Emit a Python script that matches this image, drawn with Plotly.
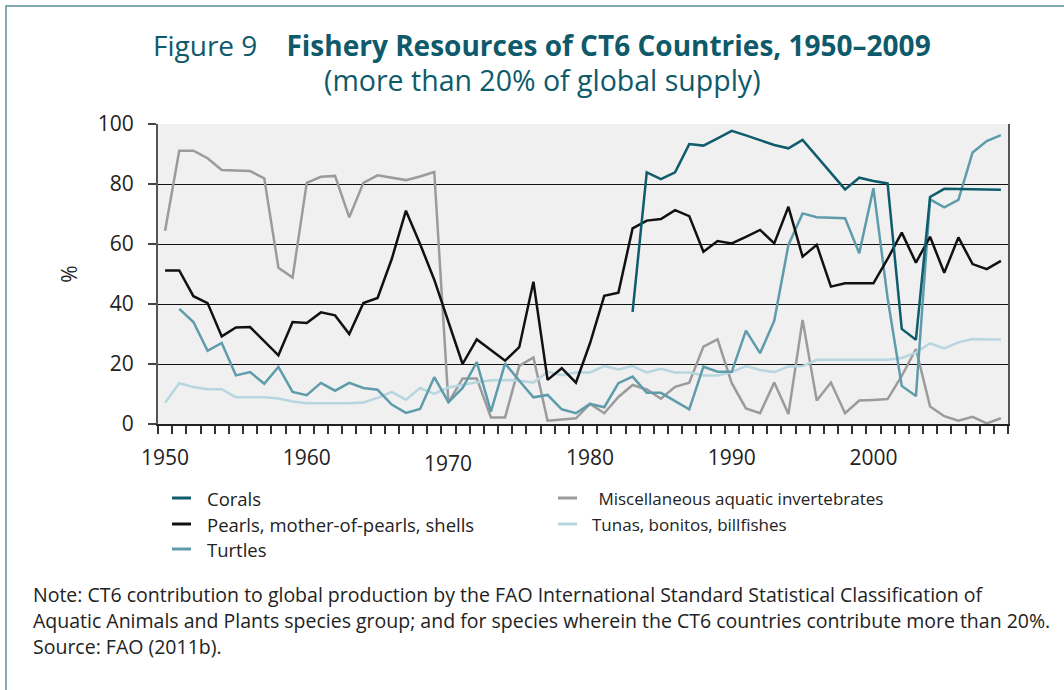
import plotly.graph_objects as go

years = list(range(1950, 2010))

corals_years = list(range(1983, 2010))
corals = [37.4, 83.9, 81.6, 83.9, 93.3, 92.8, 95.2, 97.7, 96.2, 94.6, 93.0, 91.9, 94.7,
          89.2, 83.7, 78.2, 82.1, 81.0, 80.2, 31.7, 28.1, 75.7, 78.4, 78.4, 78.3, 78.2, 78.1]

pearls = [51.2, 51.2, 42.6, 40.3, 29.2, 32.2, 32.3, 27.5, 22.9, 34.0,
          33.7, 37.2, 36.2, 30.0, 40.3, 42.0, 55.0, 71.1, 60.0, 48.1,
          33.7, 20.0, 28.2, 24.7, 21.1, 25.6, 47.4, 14.7, 18.6, 13.8,
          27.0, 42.7, 43.8, 65.2, 67.8, 68.3, 71.3, 69.3, 57.4, 61.0,
          60.2, 62.4, 64.7, 60.2, 72.4, 55.8, 59.7, 45.8, 46.9, 46.9,
          46.9, 55.0, 63.8, 53.8, 62.4, 50.4, 62.2, 53.3, 51.6, 54.4]

turtles_years = list(range(1951, 2010))
turtles = [38.4, 34.0, 24.4, 27.0, 16.2, 17.3, 13.4, 19.0, 10.7,
           9.6, 13.7, 11.1, 13.7, 12.0, 11.4, 6.5, 3.7, 5.0, 15.6,
           7.3, 12.0, 20.6, 4.1, 20.2, 14.4, 8.9, 9.7, 4.9, 3.6,
           6.7, 5.6, 13.6, 15.8, 10.4, 10.4, 7.6, 4.9, 19.1, 17.4,
           17.4, 31.1, 23.6, 34.4, 59.7, 70.2, 68.9, 68.7, 68.6, 56.9,
           78.6, 42.0, 12.7, 9.3, 74.9, 72.2, 74.7, 90.5, 94.3, 96.3]

misc = [64.4, 91.1, 91.1, 88.6, 84.7, 84.6, 84.3, 81.9, 52.1, 48.8,
        80.4, 82.4, 82.7, 68.9, 80.4, 82.9, 82.2, 81.3, 82.5, 84.0,
        7.1, 15.2, 15.2, 2.2, 2.2, 19.4, 22.2, 1.1, 1.5, 1.9,
        6.7, 3.6, 9.0, 13.0, 11.5, 8.4, 12.4, 13.8, 25.8, 28.2,
        13.6, 5.2, 3.6, 13.8, 3.3, 34.7, 7.8, 13.8, 3.6, 7.8,
        8.0, 8.3, 16.0, 25.0, 5.8, 2.6, 1.1, 2.4, 0.2, 1.9]

tunas = [7.1, 13.6, 12.3, 11.6, 11.6, 8.9, 8.9, 8.9, 8.5, 7.5,
         6.9, 6.9, 6.9, 6.9, 7.2, 8.7, 10.7, 8.1, 12.0, 10.0,
         12.2, 13.1, 13.9, 14.6, 14.7, 14.4, 13.8, 17.4, 16.3, 17.2,
         17.2, 19.3, 18.2, 19.3, 17.2, 18.4, 17.2, 17.2, 16.2, 16.2,
         17.3, 19.3, 18.0, 17.3, 19.2, 19.3, 21.4, 21.4, 21.4, 21.4,
         21.4, 21.4, 22.0, 23.8, 26.9, 25.2, 27.2, 28.3, 28.2, 28.2]

year_labels = [1950, 1960, 1980, 1990, 2000]
low_label = 1970

C_CORAL = "#0f5c6c"
C_PEARL = "#111111"
C_TURTLE = "#5e9cab"
C_MISC = "#9b9b9d"
C_TUNA = "#b8d6df"

FONT = "Open Sans"
TEAL_TXT = "#0e5a6a"

# pixel geometry helpers (plot area: x 158..1008, y 124..424)
L, R, T, B = 158, 1008, 124, 424
def px(x):
    return (x - L) / (R - L)
def py(y):
    return (B - y) / (B - T)

fig = go.Figure()
series = [
    ("Miscellaneous aquatic invertebrates", years, misc, C_MISC),
    ("Tunas, bonitos, billfishes", years, tunas, C_TUNA),
    ("Turtles", turtles_years, turtles, C_TURTLE),
    ("Pearls, mother-of-pearls, shells", years, pearls, C_PEARL),
    ("Corals", corals_years, corals, C_CORAL),
]
for name, xs, ys, col in series:
    fig.add_trace(go.Scatter(x=xs, y=ys, mode="lines", name=name,
                             line=dict(color=col, width=2.5), showlegend=False))

fig.update_layout(
    width=1064, height=690,
    margin=dict(l=L, r=1064 - R, t=T, b=690 - B),
    paper_bgcolor="white", plot_bgcolor="#f0f0f0",
    font=dict(family=FONT, color="#222222"),
)
fig.update_xaxes(
    range=[1949.5, 2009.5], tickvals=year_labels, ticks="",
    tickfont=dict(size=21, color="#222"), showgrid=False, zeroline=False,
    showline=True, linecolor="#222", linewidth=1.5,
    ticklabelstandoff=14,
    minor=dict(tickvals=[y - 0.5 for y in range(1950, 2011)], ticks="outside",
               ticklen=8, tickcolor="#333", tickwidth=1.5, showgrid=False),
)
fig.update_yaxes(
    range=[0, 100], tickvals=[0, 20, 40, 60, 80, 100], ticks="outside", ticklen=8,
    tickcolor="#444", tickwidth=1.5,
    tickfont=dict(size=21, color="#222"), showgrid=True, gridcolor="#111",
    gridwidth=1, zeroline=False, showline=True, linecolor="#555", linewidth=2,
    mirror=True, ticklabelstandoff=10,
    title=dict(text="%", font=dict(size=21, color="#222"), standoff=14),
)

ann = []
# 1970 label drawn lower, as in the original
ann.append(dict(x=low_label, y=py(463), xref="x", yref="paper", text=str(low_label),
                showarrow=False, font=dict(size=21, color="#222"),
                xanchor="center", yanchor="middle"))
# Title
ann.append(dict(x=px(542), y=py(45), xref="paper", yref="paper",
                text="Figure 9&nbsp;&nbsp;&nbsp;&nbsp;<b>Fishery Resources of CT6 Countries, 1950–2009</b>",
                showarrow=False, font=dict(size=28, color=TEAL_TXT),
                xanchor="center", yanchor="middle"))
ann.append(dict(x=px(542), y=py(80), xref="paper", yref="paper",
                text="(more than 20% of global supply)",
                showarrow=False, font=dict(size=28.5, color=TEAL_TXT),
                xanchor="center", yanchor="middle"))

# Legend (manual, two columns)
legend_items = [
    ("Corals", C_CORAL, 172, 205, 498, 18.5),
    ("Pearls, mother-of-pearls, shells", C_PEARL, 172, 205, 524, 18.5),
    ("Turtles", C_TURTLE, 172, 205, 549, 18.5),
    (" Miscellaneous aquatic invertebrates", C_MISC, 558, 592, 498, 17),
    ("Tunas, bonitos, billfishes", C_TUNA, 558, 590, 524, 17),
]
shapes = []
for text, col, lx, tx, ly, fs in legend_items:
    shapes.append(dict(type="line", xref="paper", yref="paper",
                       x0=px(lx), x1=px(lx + 19), y0=py(ly), y1=py(ly),
                       line=dict(color=col, width=3)))
    ann.append(dict(x=px(tx), y=py(ly), xref="paper", yref="paper", text=text,
                    showarrow=False, font=dict(size=fs, color="#222"),
                    xanchor="left", yanchor="middle"))

# Notes
notes = [
    ("Note: CT6 contribution to global production by the FAO International Standard Statistical Classification of", 594),
    ("Aquatic Animals and Plants species group; and for species wherein the CT6 countries contribute more than 20%.", 620),
    ("Source: FAO (2011b).", 646),
]
for text, ny in notes:
    ann.append(dict(x=px(31), y=py(ny), xref="paper", yref="paper", text=text,
                    showarrow=False, font=dict(size=19.5, color="#222"),
                    xanchor="left", yanchor="middle"))

# Frame border
shapes.append(dict(type="rect", xref="paper", yref="paper",
                   x0=px(6), x1=px(1080), y0=py(6), y1=py(710),
                   line=dict(color="#5a8f9b", width=1.5), layer="below"))

fig.update_layout(annotations=ann, shapes=shapes)
fig.write_html("out.html", config={"displayModeBar": False},
               post_script="document.body.style.margin='0';document.body.style.overflow='hidden';")
